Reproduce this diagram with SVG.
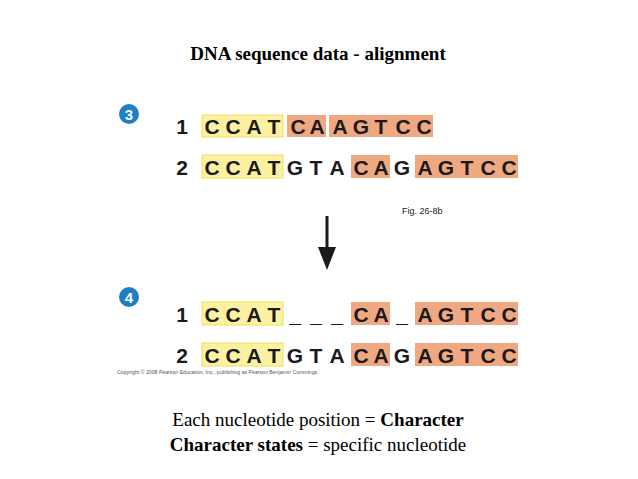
<svg xmlns="http://www.w3.org/2000/svg" width="638" height="479" viewBox="0 0 638 479">
<style>
.y{fill:#fbf1a0;stroke:#f2e060;stroke-width:1}
.o{fill:#f0a883}
.l{font-family:"Liberation Sans",Arial,sans-serif;font-weight:bold;font-size:21px;fill:#1a1a1a;text-anchor:middle}
.c{fill:#1f7fc4}
.ct{font-family:"Liberation Sans",Arial,sans-serif;font-weight:bold;font-size:15px;fill:#fff;text-anchor:middle}
.s{font-family:"Liberation Serif","Times New Roman",serif;font-size:19px;fill:#000;text-anchor:middle}
</style>
<rect width="638" height="479" fill="#fff"/>
<text class="s" x="318" y="60" font-weight="bold">DNA sequence data - alignment</text>
<g id="step3">
<circle class="c" cx="129" cy="114" r="10"/><text class="ct" x="129" y="119.5">3</text>
<rect class="y" x="202" y="115" width="81" height="22"/>
<rect class="o" x="287" y="115" width="39" height="22"/>
<rect class="o" x="329" y="115" width="104" height="22"/>
<text class="l" x="182" y="134">1</text>
<text class="l" y="134"><tspan x="212">C</tspan><tspan x="233">C</tspan><tspan x="254">A</tspan><tspan x="274">T</tspan><tspan x="298">C</tspan><tspan x="317">A</tspan><tspan x="340">A</tspan><tspan x="361">G</tspan><tspan x="381">T</tspan><tspan x="403">C</tspan><tspan x="424">C</tspan></text>
<rect class="y" x="202" y="155" width="81" height="23"/>
<rect class="o" x="351" y="155" width="39" height="23"/>
<rect class="o" x="415" y="155" width="103" height="23"/>
<text class="l" x="182" y="175">2</text>
<text class="l" y="175"><tspan x="212">C</tspan><tspan x="233">C</tspan><tspan x="254">A</tspan><tspan x="274">T</tspan><tspan x="295">G</tspan><tspan x="316">T</tspan><tspan x="337">A</tspan><tspan x="361">C</tspan><tspan x="381">A</tspan><tspan x="402">G</tspan><tspan x="425">A</tspan><tspan x="446">G</tspan><tspan x="467">T</tspan><tspan x="488">C</tspan><tspan x="509">C</tspan></text>
</g>
<text x="402" y="214" font-family="Liberation Sans,Arial,sans-serif" font-size="9" fill="#222">Fig. 26-8b</text>
<g id="connectors">
<line x1="327" y1="216" x2="327" y2="252" stroke="#1a1a1a" stroke-width="3"/>
<polygon points="318,247 336,247 327,270" fill="#1a1a1a"/>
</g>
<g id="step4">
<circle class="c" cx="129" cy="297" r="10"/><text class="ct" x="129" y="302.5">4</text>
<rect class="y" x="202" y="302" width="81" height="23"/>
<rect class="o" x="351" y="302" width="39" height="23"/>
<rect class="o" x="415" y="302" width="103" height="23"/>
<text class="l" x="182" y="322">1</text>
<text class="l" y="322"><tspan x="212">C</tspan><tspan x="233">C</tspan><tspan x="254">A</tspan><tspan x="274">T</tspan><tspan x="295">_</tspan><tspan x="316">_</tspan><tspan x="337">_</tspan><tspan x="361">C</tspan><tspan x="381">A</tspan><tspan x="402">_</tspan><tspan x="425">A</tspan><tspan x="446">G</tspan><tspan x="467">T</tspan><tspan x="488">C</tspan><tspan x="509">C</tspan></text>
<rect class="y" x="202" y="343" width="81" height="23"/>
<rect class="o" x="351" y="343" width="39" height="23"/>
<rect class="o" x="415" y="343" width="103" height="23"/>
<text class="l" x="182" y="363">2</text>
<text class="l" y="363"><tspan x="212">C</tspan><tspan x="233">C</tspan><tspan x="254">A</tspan><tspan x="274">T</tspan><tspan x="295">G</tspan><tspan x="316">T</tspan><tspan x="337">A</tspan><tspan x="361">C</tspan><tspan x="381">A</tspan><tspan x="402">G</tspan><tspan x="425">A</tspan><tspan x="446">G</tspan><tspan x="467">T</tspan><tspan x="488">C</tspan><tspan x="509">C</tspan></text>
</g>
<text x="117" y="374" font-family="Liberation Sans,Arial,sans-serif" font-size="5.2" fill="#555">Copyright © 2008 Pearson Education, Inc., publishing as Pearson Benjamin Cummings.</text>
<text class="s" x="318" y="426">Each nucleotide position = <tspan font-weight="bold">Character</tspan></text>
<text class="s" x="318" y="451"><tspan font-weight="bold">Character states</tspan> = specific nucleotide</text>
</svg>
